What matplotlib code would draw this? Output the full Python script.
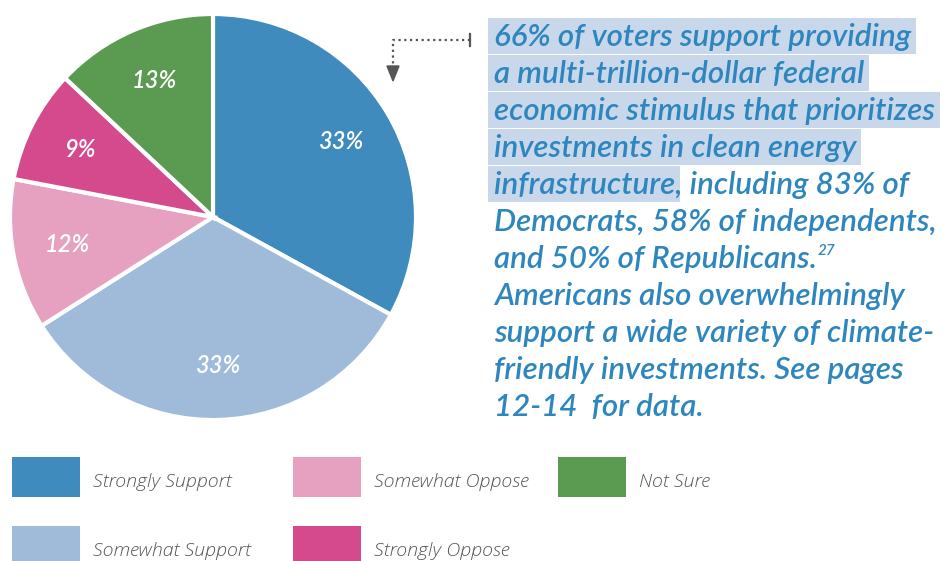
import matplotlib
matplotlib.use("Agg")
import matplotlib.pyplot as plt
from matplotlib.patches import Rectangle, Polygon

categories = ["Strongly Support", "Somewhat Support", "Somewhat Oppose", "Strongly Oppose", "Not Sure"]
shares = [33, 33, 12, 9, 13]
colors = ["#3f8bbd", "#a0bad9", "#e6a1c0", "#d44a8c", "#5a9a51"]

# legend layout: (category index, column x, row y) in pixels
legend_slots = [(0, 12, 457), (2, 293, 457), (4, 558, 457), (1, 12, 526), (3, 293, 526)]

# paragraph lines; the first n characters of each line are highlighted
text_lines = [
    ("66% of voters support providing", 99),
    ("a multi-trillion-dollar federal", 99),
    ("economic stimulus that prioritizes", 99),
    ("investments in clean energy", 99),
    ("infrastructure, including 83% of", 14),
    ("Democrats, 58% of independents,", 0),
    ("and 50% of Republicans.", 0),
    ("Americans also overwhelmingly", 0),
    ("support a wide variety of climate-", 0),
    ("friendly investments. See pages", 0),
    ("12-14  for data.", 0),
]
footnote = "27"

W, H = 948, 561
TEXT_BLUE = "#2e86bf"
HILITE = "#c9d7eb"
FONT = "Lato"
BODY = dict(fontsize=22.5, fontstyle="italic", fontweight="semibold", fontfamily=FONT)

fig = plt.figure(figsize=(W / 100, H / 100), dpi=100)

# pie in its own square axes
pie_ax = fig.add_axes([10 / W, (H - 420) / H, 406 / W, 406 / H])
wedges, _, pct_texts = pie_ax.pie(
    shares,
    colors=colors,
    startangle=90,
    counterclock=False,
    autopct=lambda p: f"{p:.0f}%",
    pctdistance=0.73,
    wedgeprops=dict(edgecolor="white", linewidth=3),
)
for t in pct_texts:
    t.set_color("white")
    t.set_fontsize(17)
    t.set_fontstyle("italic")
    t.set_fontweight("semibold")
    t.set_fontfamily(FONT)
pie_ax.set_aspect("equal")
pie_ax.set_xlim(-1.0, 1.0)
pie_ax.set_ylim(-1.0, 1.0)

# overlay axes in pixel coordinates for text and annotations
ov = fig.add_axes([0, 0, 1, 1])
ov.set_xlim(0, W)
ov.set_ylim(H, 0)
ov.axis("off")
ov.patch.set_alpha(0)

# dotted pointer with arrowhead
ov.plot([470, 393, 393], [40, 40, 68], color="#555555", lw=1.6, ls=(0, (1, 1.6)))
ov.plot([470, 470], [34, 46], color="#555555", lw=1.6)
ov.add_patch(Polygon([[387, 66], [399, 66], [393, 81]], closed=True, color="#555555"))

x0 = 494
base0, step = 46, 37
texts = []
for i, (line, n_hi) in enumerate(text_lines):
    y = base0 + step * i
    t = ov.text(x0, y, line, color=TEXT_BLUE, va="baseline", ha="left", zorder=3, **BODY)
    texts.append((t, line, n_hi, y))

fig.canvas.draw()
renderer = fig.canvas.get_renderer()
for t, line, n_hi, y in texts:
    if n_hi == 0:
        continue
    if n_hi >= len(line):
        right = t.get_window_extent(renderer).x1
    else:
        tmp = ov.text(x0, y, line[:n_hi], va="baseline", ha="left", **BODY)
        right = tmp.get_window_extent(renderer).x1
        tmp.remove()
    ov.add_patch(Rectangle((488, y - 28), right + 5 - 488, 36, color=HILITE, zorder=1, lw=0))

# footnote marker after "Republicans."
rep = texts[6][0]
ov.text(rep.get_window_extent(renderer).x1 + 1, texts[6][3] - 13, footnote, fontsize=11,
        fontstyle="italic", fontweight="semibold", fontfamily=FONT, color=TEXT_BLUE,
        va="baseline", ha="left", zorder=3)

# legend swatches
for idx, lx, ly in legend_slots:
    ov.add_patch(Rectangle((lx, ly), 68, 40, color=colors[idx], lw=0))
    ov.text(lx + 81, ly + 25, categories[idx], fontsize=14, fontstyle="italic", fontweight="light",
            fontfamily="Open Sans", color="#555555", va="center", ha="left")

fig.savefig("out.png", dpi=100)
